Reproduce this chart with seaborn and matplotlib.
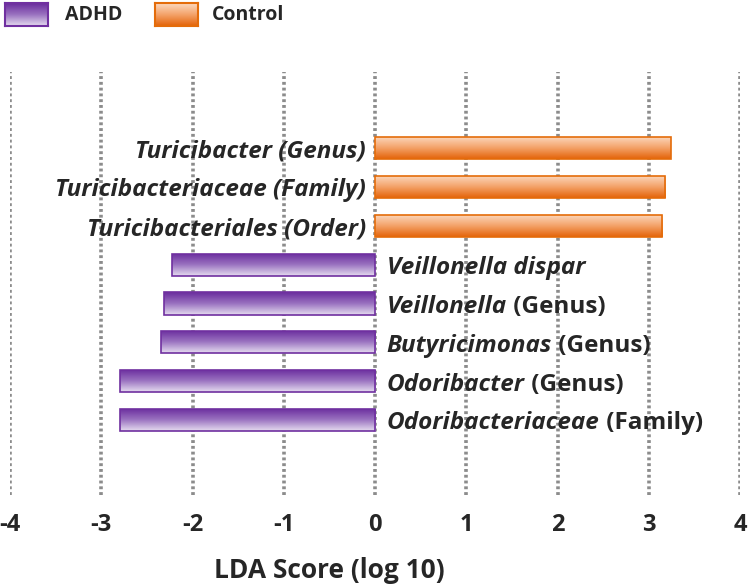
import matplotlib.pyplot as plt
import numpy as np
import pandas as pd
import seaborn as sns
from matplotlib.colors import LinearSegmentedColormap

# donnees
taxa_italic = ["Turicibacter (Genus)", "Turicibacteriaceae (Family)", "Turicibacteriales (Order)",
               "Veillonella dispar", "Veillonella", "Butyricimonas", "Odoribacter", "Odoribacteriaceae"]
taxa_suffix = ["", "", "", "", " (Genus)", " (Genus)", " (Genus)", " (Family)"]
lda_scores = [3.24, 3.18, 3.15, -2.22, -2.31, -2.35, -2.80, -2.80]
groups = ["Control", "Control", "Control", "ADHD", "ADHD", "ADHD", "ADHD", "ADHD"]
ticks = [-4, -3, -2, -1, 0, 1, 2, 3, 4]

df = pd.DataFrame({"taxon": taxa_italic, "score": lda_scores, "group": groups})

sns.set_style("white")
plt.rcParams['font.family'] = ['Open Sans', 'DejaVu Sans']

purple_cm = LinearSegmentedColormap.from_list("p", ["#6a2c9e", "#9a72c0", "#e4dbef"])
orange_cm = LinearSegmentedColormap.from_list("o", ["#fcd9c0", "#f4a36a", "#e4640a"])
grad = np.linspace(0, 1, 64).reshape(-1, 1)

fig = plt.figure(figsize=(7.5, 5.87), dpi=100)
ax = fig.add_axes([10 / 750, 1 - 495 / 587, 730 / 750, 423 / 587])

sns.barplot(data=df, x="score", y="taxon", hue="group", dodge=False, orient="h",
            palette={"ADHD": "#7030a0", "Control": "#e46c0a"}, width=0.57,
            legend=False, ax=ax, zorder=2)

for p in list(ax.patches):
    x0, y0 = p.get_x(), p.get_y()
    w, h = p.get_width(), p.get_height()
    if w == 0 or np.isnan(w):
        continue
    neg = w < 0
    cm = purple_cm if neg else orange_cm
    p.set_facecolor("none")
    p.set_edgecolor("#7030a0" if neg else "#e46c0a")
    p.set_linewidth(1.2)
    p.set_zorder(4)
    im = ax.imshow(grad, cmap=cm, aspect="auto", origin="upper",
                   extent=[min(x0, x0 + w), max(x0, x0 + w), y0 + h, y0], zorder=3)
    im.set_clip_path(p)

ax.set_xlim(-4, 4)
ax.set_ylim(8.93, -1.96)
ax.set_xticks(ticks)
ax.set_xticklabels([str(t) for t in ticks], fontsize=17, fontweight="bold")
ax.tick_params(axis="x", length=0, pad=13)
ax.set_yticks([])
ax.set_xlabel("")
ax.set_ylabel("")
for s in ax.spines.values():
    s.set_visible(False)
for t in ticks:
    ax.axvline(t, color="#8c8c8c", lw=2.6, ls=(0, (0.8, 0.8)), zorder=1)

# etiquettes des taxons
fig.canvas.draw()
renderer = fig.canvas.get_renderer()
fs = 17.5
for i, (name, suf, sc) in enumerate(zip(taxa_italic, taxa_suffix, lda_scores)):
    yb = i + 0.24
    if sc > 0:
        ax.text(-0.1, yb, name, ha="right", va="baseline", fontsize=fs,
                fontweight="bold", style="italic", zorder=5)
    else:
        t = ax.text(0.13, yb, name, ha="left", va="baseline", fontsize=fs,
                    fontweight="bold", style="italic", zorder=5)
        if suf:
            bb = t.get_window_extent(renderer)
            xd = ax.transData.inverted().transform((bb.x1, 0))[0]
            ax.text(xd, yb, suf, ha="left", va="baseline", fontsize=fs,
                    fontweight="bold", zorder=5)

fig.text(329 / 750, 1 - 571 / 587, "LDA Score (log 10)", ha="center", va="center",
         fontsize=19, fontweight="bold")

# legende
for (x0, lab, cm, ec, tx) in [(5, "ADHD", purple_cm, "#7030a0", 65),
                              (155, "Control", orange_cm, "#e46c0a", 212)]:
    lax = fig.add_axes([x0 / 750, 1 - 26 / 587, 43 / 750, 23 / 587])
    lax.imshow(grad, cmap=cm, aspect="auto")
    lax.set_xticks([])
    lax.set_yticks([])
    for s in lax.spines.values():
        s.set_color(ec)
        s.set_linewidth(1.5)
    fig.text(tx / 750, 1 - 15 / 587, lab, ha="left", va="center", fontsize=14, fontweight="bold")

fig.savefig("out.png", dpi=100)
